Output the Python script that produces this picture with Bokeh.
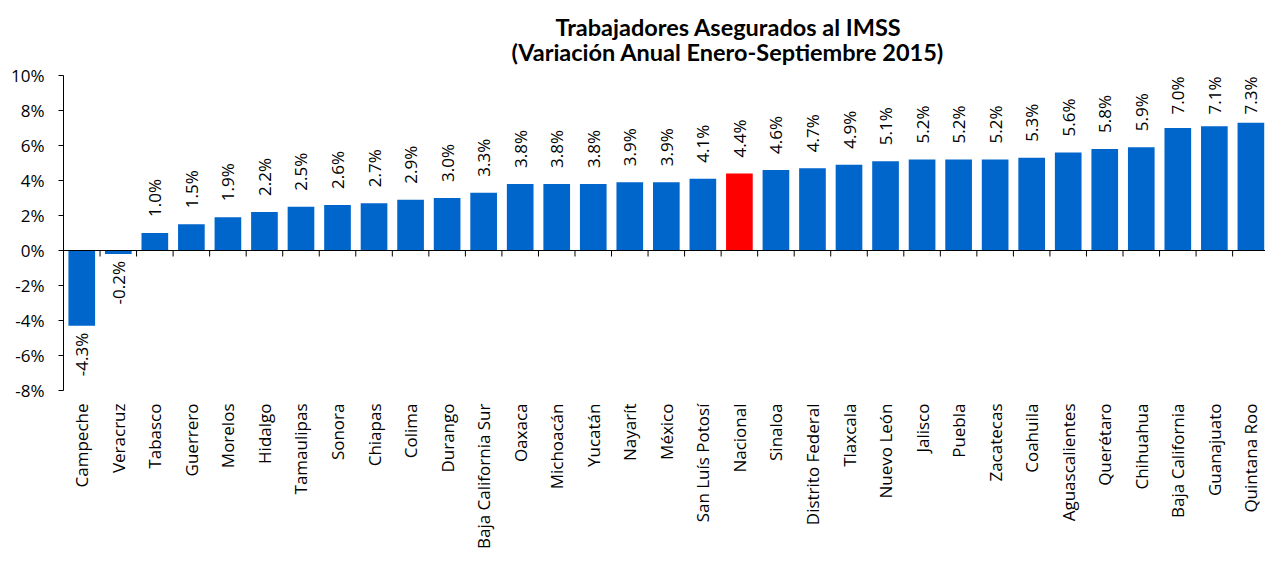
from math import pi
from bokeh.plotting import figure
from bokeh.models import (Range1d, LinearAxis, FixedTicker, Span, ColumnDataSource,
                          Title, CustomJSTickFormatter)
from bokeh.embed import file_html
from bokeh.resources import INLINE
from bokeh.core.properties import value

# ---------------- data ----------------
states = ["Campeche", "Veracruz", "Tabasco", "Guerrero", "Morelos", "Hidalgo",
          "Tamaulipas", "Sonora", "Chiapas", "Colima", "Durango",
          "Baja California Sur", "Oaxaca", "Michoacán", "Yucatán", "Nayarít",
          "México", "San Luís Potosí", "Nacional", "Sinaloa", "Distrito Federal",
          "Tlaxcala", "Nuevo León", "Jalisco", "Puebla", "Zacatecas", "Coahuila",
          "Aguascalientes", "Querétaro", "Chihuahua", "Baja California",
          "Guanajuato", "Quintana Roo"]
variation = [-4.3, -0.2, 1.0, 1.5, 1.9, 2.2, 2.5, 2.6, 2.7, 2.9, 3.0, 3.3, 3.8, 3.8,
             3.8, 3.9, 3.9, 4.1, 4.4, 4.6, 4.7, 4.9, 5.1, 5.2, 5.2, 5.2, 5.3, 5.6,
             5.8, 5.9, 7.0, 7.1, 7.3]
y_ticks = [-8, -6, -4, -2, 0, 2, 4, 6, 8, 10]
highlight = "Nacional"
title_line1 = "Trabajadores Asegurados al IMSS"
title_line2 = "(Variación Anual Enero-Septiembre 2015)"

# ---------------- styling / layout ----------------
FONT = "Open Sans"
TITLE_FONT = "Lato"
BLUE = "#0066CC"
RED = "#FF0000"
W, H = 1265, 555
LEFT, TOP, BOTTOM = 63, 75, 165
frame_h = H - TOP - BOTTOM

n = len(states)
xs = list(range(n))
colors = [RED if s == highlight else BLUE for s in states]
labels = [f"{v:.1f}%" for v in variation]

y_min, y_max = y_ticks[0], y_ticks[-1]
ppu = frame_h / (y_max - y_min)
tick_len = 6 / ppu
LABEL_LEN = 38  # approx. pixel length of a rotated value label


def up_offset(v):
    room = (y_max - v) * ppu - LABEL_LEN - 1
    return -min(16.0, room)


src = ColumnDataSource(dict(x=xs, v=variation, color=colors, lab=labels))
pos_idx = [i for i, v in enumerate(variation) if v >= 0]
neg_idx = [i for i, v in enumerate(variation) if v < 0]
pos = ColumnDataSource(dict(x=[xs[i] for i in pos_idx],
                            v=[variation[i] for i in pos_idx],
                            lab=[labels[i] for i in pos_idx],
                            off=[up_offset(variation[i]) for i in pos_idx]))
neg = ColumnDataSource(dict(x=[xs[i] for i in neg_idx],
                            v=[variation[i] for i in neg_idx],
                            lab=[labels[i] for i in neg_idx]))

p = figure(width=W, height=H, output_backend="svg", toolbar_location=None,
           x_range=Range1d(-0.5, n - 0.6), y_range=Range1d(y_min, y_max),
           x_axis_location=None, y_axis_location=None,
           min_border_left=LEFT, min_border_right=0, min_border_top=TOP,
           min_border_bottom=BOTTOM)
p.outline_line_color = None
p.background_fill_color = "white"
p.grid.visible = False

# bars
p.vbar(x="x", top="v", bottom=0, width=0.73, color="color", line_color=None, source=src)

# category axis line at zero with ticks between categories
p.add_layout(Span(location=0, dimension="width", line_color="black", line_width=1))
bounds = [i + 0.5 for i in range(n - 1)]
p.segment(x0=bounds, y0=[0] * len(bounds), x1=bounds, y1=[-tick_len] * len(bounds),
          line_color="black", line_width=1)

# data labels
p.text(x="x", y="v", text="lab", source=pos, angle=pi / 2, text_align="left",
       text_baseline="middle", y_offset="off", text_font=value(FONT),
       text_font_size="17px", text_color="black")
p.text(x="x", y="v", text="lab", source=neg, angle=pi / 2, text_align="right",
       text_baseline="middle", y_offset=7, text_font=value(FONT),
       text_font_size="17px", text_color="black")

# y axis
yaxis = LinearAxis(ticker=FixedTicker(ticks=y_ticks),
                   formatter=CustomJSTickFormatter(code="return tick.toFixed(0) + '%';"))
yaxis.axis_line_color = "black"
yaxis.major_tick_line_color = "black"
yaxis.major_tick_out = 5
yaxis.major_tick_in = 0
yaxis.minor_tick_line_color = None
yaxis.major_label_standoff = 14
yaxis.major_label_text_font = FONT
yaxis.major_label_text_font_size = "17px"
yaxis.major_label_text_color = "black"
p.add_layout(yaxis, "left")

# category labels axis
xaxis = LinearAxis(ticker=FixedTicker(ticks=xs),
                   formatter=CustomJSTickFormatter(args=dict(names=states),
                                                   code="return names[Math.round(tick)] || '';"))
xaxis.axis_line_color = None
xaxis.major_tick_line_color = None
xaxis.minor_tick_line_color = None
xaxis.major_tick_out = 0
xaxis.major_tick_in = 0
xaxis.major_label_standoff = 13
xaxis.major_label_orientation = pi / 2
xaxis.major_label_text_font = FONT
xaxis.major_label_text_font_size = "17px"
xaxis.major_label_text_color = "black"
p.add_layout(xaxis, "below")

# titles (second line closest to the plot, first line above it)
t2 = Title(text=title_line2, align="left", offset=448, text_font=TITLE_FONT,
           text_font_size="23.5px", text_font_style="bold", text_color="black", standoff=20)
t1 = Title(text=title_line1, align="left", offset=492, text_font=TITLE_FONT,
           text_font_size="23.5px", text_font_style="bold", text_color="black", standoff=0)
try:
    t1.standoff = -30
except Exception:
    t1.standoff = 0
p.add_layout(t2, "above")
p.add_layout(t1, "above")

open("out.html", "w").write(file_html(p, INLINE))
